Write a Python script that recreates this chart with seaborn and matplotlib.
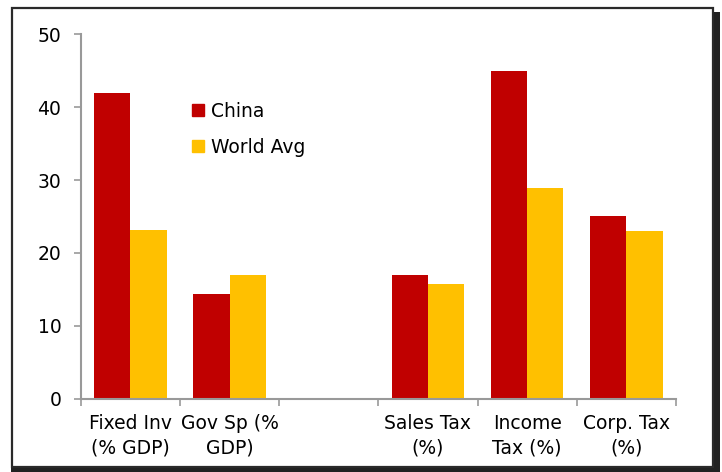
import matplotlib
matplotlib.use("Agg")
import matplotlib.pyplot as plt
from matplotlib.patches import Rectangle
from matplotlib.lines import Line2D
import numpy as np
import pandas as pd
import seaborn as sns

# Categories (the blank slot separates spending from tax measures)
categories = ["Fixed Inv\n(% GDP)", "Gov Sp (%\nGDP)", " ",
              "Sales Tax\n(%)", "Income\nTax (%)", "Corp. Tax\n(%)"]
series = ["China", "World Avg"]
china = [42.0, 14.3, np.nan, 17.0, 45.0, 25.0]
world_avg = [23.2, 17.0, np.nan, 15.8, 28.9, 23.0]
y_ticks = [0, 10, 20, 30, 40, 50]
colors = ["#C00000", "#FFC000"]

df = pd.DataFrame({
    "category": categories * 2,
    "series": [series[0]] * len(categories) + [series[1]] * len(categories),
    "value": china + world_avg,
})

sns.set_theme(style="white")
plt.rcParams["font.family"] = ["DejaVu Sans"]

W, H = 722, 472
fig = plt.figure(figsize=(W / 100, H / 100), dpi=100)
ax = fig.add_axes([80.7 / W, 1 - 398.7 / H, (676 - 80.7) / W, (398.7 - 34.3) / H])

sns.barplot(data=df, x="category", y="value", hue="series", order=categories,
            hue_order=series, palette=colors, width=0.73, saturation=1,
            errorbar=None, ax=ax, legend=False, linewidth=0, edgecolor="none")

ax.set_xlim(-0.5, len(categories) - 0.5)
ax.set_ylim(0, 50)
ax.set_xlabel("")
ax.set_ylabel("")

grey = "#999999"
txt = "#000000"
for side in ["top", "right"]:
    ax.spines[side].set_visible(False)
for side in ["left", "bottom"]:
    ax.spines[side].set_color(grey)
    ax.spines[side].set_linewidth(1.5)

ax.set_yticks(y_ticks)
ax.set_yticklabels([str(t) for t in y_ticks])
ax.tick_params(axis="y", length=5, width=1.2, color=grey, pad=9,
               labelsize=13.5, labelcolor=txt, left=True)

# Category boundary ticks, labels centred between them
ax.set_xticks(np.arange(-0.5, len(categories), 1.0))
ax.set_xticklabels([])
ax.set_xticks(np.arange(len(categories)), minor=True)
ax.set_xticklabels(categories, minor=True, fontsize=13.5, color=txt,
                   linespacing=1.35)
ax.tick_params(axis="x", which="major", length=5, width=1.2, color=grey,
               bottom=True)
ax.tick_params(axis="x", which="minor", length=0, pad=11, bottom=True)

handles = [Line2D([0], [0], marker="s", linestyle="", markersize=9,
                  markerfacecolor=c, markeredgecolor=c) for c in colors]
leg = ax.legend(handles, series, loc="upper left", frameon=False,
                bbox_to_anchor=(191 / W, 1 - 102 / H),
                bbox_transform=fig.transFigure,
                fontsize=13.5, handlelength=0.7, handletextpad=0.35,
                labelspacing=0.9, borderpad=0, borderaxespad=0)
for t in leg.get_texts():
    t.set_color(txt)

# Outer frame with a drop shadow on the right and bottom
fig.patches.append(Rectangle((713 / W, 0), 7 / W, 1 - 12 / H,
                             transform=fig.transFigure, facecolor="#222222",
                             edgecolor="none"))
fig.patches.append(Rectangle((11 / W, 0), 709 / W, 5 / H,
                             transform=fig.transFigure, facecolor="#222222",
                             edgecolor="none"))
fig.patches.append(Rectangle((12 / W, 1 - 467 / H), 701 / W, 459 / H,
                             transform=fig.transFigure, facecolor="none",
                             edgecolor="#2a2a2a", linewidth=1.6))

fig.savefig("out.png", dpi=100)
